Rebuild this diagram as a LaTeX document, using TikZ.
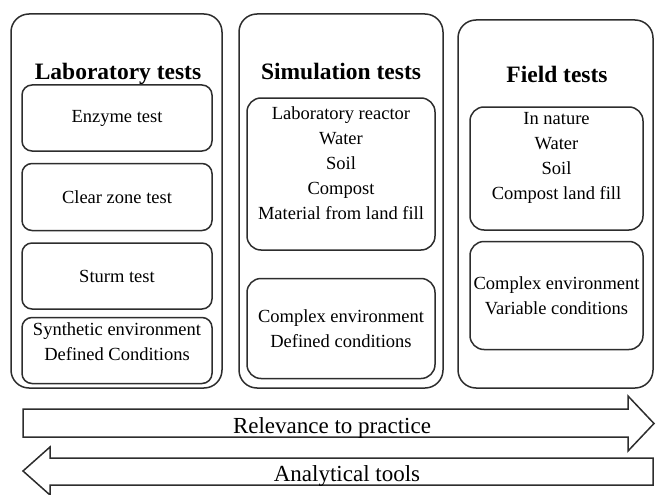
\documentclass[tikz,border=0pt]{standalone}
\usepackage{fontspec}
\setmainfont{Liberation Serif}
\usepackage{xcolor}
\usepackage{tikz}
\usetikzlibrary{positioning}

\definecolor{myline}{RGB}{45,45,45}
\newcommand{\bodyfont}{\fontsize{18.5}{25}\selectfont}
\newcommand{\headfont}{\fontsize{23.5}{28}\selectfont\bfseries}
\newcommand{\bandfont}{\fontsize{23}{28}\selectfont}

\begin{document}
\begin{tikzpicture}[x=1pt, y=-1pt, line width=1.5pt,
    colbox/.style={draw=myline, rounded corners=18pt, inner sep=0pt},
    inbox/.style={draw=myline, rounded corners=10pt, align=center,
                  inner sep=0pt, font=\bodyfont},
    intext/.style={align=center, inner sep=0pt, font=\bodyfont},
    headtext/.style={anchor=base, inner sep=0pt, font=\headfont},
    bandtext/.style={anchor=base, inner sep=0pt, font=\bandfont},
    bigarrow/.style={draw=myline, fill=white, line join=miter}]

  \useasboundingbox (0,0) rectangle (656,495);

  % the three test columns
  \node[colbox, minimum width=211pt, minimum height=374pt] (lab) at (116.5,201) {};
  \node[colbox, minimum width=204pt, minimum height=374pt] (sim) at (341,201) {};
  \node[colbox, minimum width=195pt, minimum height=368pt] (fld) at (555.5,204) {};

  \node[headtext] (labT) at (118,80) {Laboratory tests};
  \node[headtext] (simT) at (341,80) {Simulation tests};
  \node[headtext] (fldT) at (557,83) {Field tests};

  % laboratory tests
  \node[inbox, minimum width=190pt, minimum height=66pt] (enz) at (117,118) {Enzyme test};
  \node[inbox, minimum width=190pt, minimum height=67pt, below=11pt of enz] (clz) {Clear zone test};
  \node[inbox, minimum width=190pt, minimum height=66pt, below=11pt of clz] (stu) {Sturm test};
  \node[inbox, minimum width=190pt, minimum height=66pt, below=7pt of stu] (syn) {};
  \node[intext] (synT) at ([yshift=9pt]syn.center)
        {Synthetic environment\\Defined Conditions};

  % simulation tests
  \node[inbox, rounded corners=14pt, minimum width=188pt, minimum height=152pt] (simA) at (341,174) {};
  \node[intext] (simAT) at ([yshift=11pt]simA.center)
        {Laboratory reactor\\Water\\Soil\\Compost\\Material from land fill};
  \node[inbox, rounded corners=14pt, minimum width=188pt, minimum height=100pt,
        below=27pt of simA] (simB) {Complex environment\\Defined conditions};

  % field tests
  \node[inbox, rounded corners=14pt, minimum width=173pt, minimum height=123pt] (fldA) at (556.5,168.5) {};
  \node[intext] (fldAT) at ([yshift=10.5pt]fldA.center)
        {In nature\\Water\\Soil\\Compost land fill};
  \node[inbox, rounded corners=14pt, minimum width=173pt, minimum height=108pt,
        below=10pt of fldA] (fldB) {Complex environment\\Variable conditions};

  % the two bands at the bottom
  \draw[bigarrow] (23,409) -- (628,409) -- (628,396) -- (654,423.5)
        -- (628,451) -- (628,437) -- (23,437) -- cycle;
  \node[bandtext] (rel) at (332,433) {Relevance to practice};

  \draw[bigarrow] (653,458) -- (50,458) -- (50,447) -- (23,471)
        -- (50,495) -- (50,485) -- (653,485) -- cycle;
  \node[bandtext] (ana) at (347,481) {Analytical tools};

\end{tikzpicture}
\end{document}
